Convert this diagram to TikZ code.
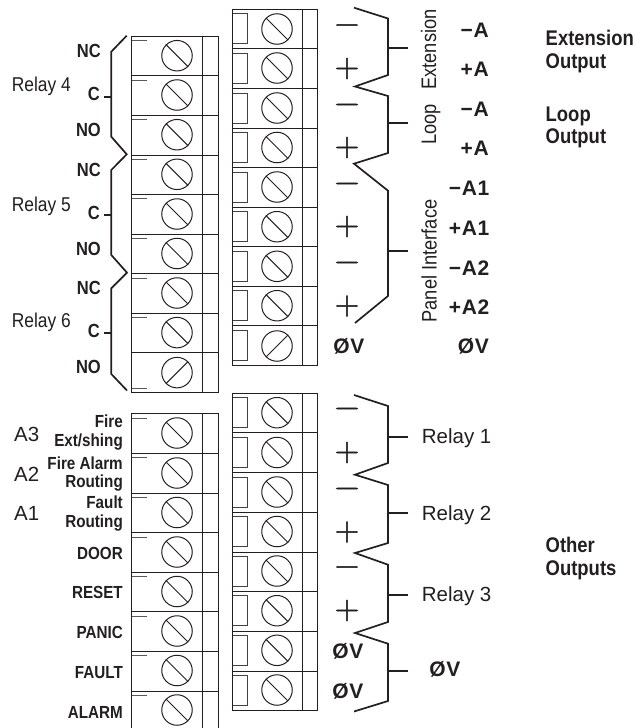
\documentclass[tikz,border=0pt]{standalone}
\usepackage{fontspec}
\setmainfont{Liberation Sans}
\newfontfamily\nar[FakeStretch=.87]{Liberation Sans}
\newfontfamily\wid[LetterSpace=3]{Liberation Sans}
\newfontfamily\lmf[FakeBold=1.5]{Latin Modern Roman}
\definecolor{ink}{HTML}{231F20}
\newcommand{\fs}[1]{\fontsize{#1}{#1}\selectfont}
\tikzset{
  cellline/.style={line width=1pt,draw=ink},
  screwc/.style={circle,draw=ink,line width=1pt,minimum size=30.5pt,inner sep=0pt},
  brace/.style={line width=1.7pt,draw=ink,line join=miter},
  bl/.style={font=\nar\fs{19}\bfseries,text=ink,inner sep=0pt},
  bs/.style={font=\nar\fs{17.5}\bfseries,text=ink,inner sep=0pt},
  bo/.style={font=\nar\fs{21.2}\bfseries,text=ink,inner sep=0pt,anchor=base west},
  rl/.style={font=\wid\fs{21}\bfseries,text=ink,inner sep=0pt,anchor=base east},
  nl/.style={font=\nar\fs{20},text=ink,inner sep=0pt},
  nw/.style={font=\fs{20.5},text=ink,inner sep=0pt,anchor=base west},
  vl/.style={font=\nar\fs{21},text=ink,inner sep=0pt,rotate=90,anchor=base},
  sign/.style={font=\lmf\fs{34},text=ink,inner sep=0pt},
}
\newcommand{\screw}[4]{%
  \node[screwc] (#1) at (#2,#3) {};
  \draw[cellline] (#1.#4) -- (#1.#4+180);}
\begin{document}
\begin{tikzpicture}[x=1pt,y=-1pt]
\useasboundingbox (0,0) rectangle (636,728);
% --- left upper block
\draw[cellline] (131.5,36) rectangle (218,392.3);
\draw[cellline] (202,36) -- (202,392.3);
\foreach \y in {75.5,115.5,155,194.5,234,273.5,313.2,352.8}
  \draw[cellline] (131.5,\y) -- (218,\y);
\foreach \y in {40.5,80,119.5,159,198.5,238.5,278,317.5,388}
  \draw[cellline,ink!75] (131.5,\y) -- (147,\y);
\foreach \y/\n/\a in {55.7/a/135,95/b/135,134.7/c/135,174.3/d/135,214/e/135,253.5/f/135,293/g/135,332.6/h/135,372.6/i/45}
  \screw{L\n}{177}{\y}{\a}
% --- left lower block
\draw[cellline] (131.5,728) -- (131.5,413.5) -- (218,413.5) -- (218,728);
\draw[cellline] (202,413.5) -- (202,728);
\foreach \y in {453.3,493,532.7,572,611.5,651,691}
  \draw[cellline] (131.5,\y) -- (218,\y);
\foreach \y in {418,457.5,497.5,537,576.5,616,655.5,695}
  \draw[cellline,ink!75] (131.5,\y) -- (147,\y);
\foreach \y/\n in {433/a,473/b,512.5/c,552/d,591.5/e,631/f,670.5/g,710/h}
  \screw{M\n}{177}{\y}{135}
% --- right upper block
\draw[cellline] (232.5,9) rectangle (317.5,365.3);
\draw[cellline] (302.5,9) -- (302.5,365.3);
\foreach \y in {48.5,88.5,128,167.5,207,246.7,286.7,325.7}
  \draw[cellline] (232.5,\y) -- (317.5,\y);
\foreach \y in {13.5,53,93,132,172,211.5,251.5,290.5,330.5}
  \draw[cellline,ink!85] (232.5,\y) -- (247.5,\y) -- ++(0,30) -- (232.5,\y+30);
\foreach \y/\n/\a in {29/a/135,68/b/135,108/c/135,147.5/d/135,187/e/135,226.7/f/135,266.3/g/135,305.7/h/135,346/i/45}
  \screw{R\n}{277}{\y}{\a}
% --- right lower block
\draw[cellline] (232.5,393) rectangle (317.5,710.7);
\draw[cellline] (302.5,393) -- (302.5,710.7);
\foreach \y in {432.7,472.5,512,552,591,631,671}
  \draw[cellline] (232.5,\y) -- (317.5,\y);
\foreach \y in {397.5,437,477,516.5,556,595.5,635.5,675}
  \draw[cellline,ink!85] (232.5,\y) -- (247.5,\y) -- ++(0,30) -- (232.5,\y+30);
\foreach \y/\n in {412.7/a,452.5/b,492/c,531.5/d,571/e,610.7/f,650.3/g,690/h}
  \screw{S\n}{277}{\y}{135}
% --- left brace
\coordinate (lb0) at (126.7,35.7);
\coordinate (lb1) at (111.3,51.7);
\coordinate (lb2) at (111.3,136.7);
\coordinate (lb3) at (126.7,154.3);
\coordinate (lb4) at (111.3,170);
\coordinate (lb5) at (111.3,255);
\coordinate (lb6) at (127,272.7);
\coordinate (lb7) at (111.3,288.3);
\coordinate (lb8) at (111.3,374);
\coordinate (lb9) at (127,390.5);
\draw[brace] (lb0)--(lb1)--(lb2)--(lb3)--(lb4)--(lb5)--(lb6)--(lb7)--(lb8)--(lb9);
\foreach \y/\n in {97.3/a,215/b,333.3/c} {
  \coordinate (lt\n) at (104,\y); \coordinate (le\n) at (111.3,\y);
  \draw[brace] (lt\n)--(le\n);}
% --- right upper braces
\coordinate (p0) at (354,7.7);
\coordinate (p1) at (388,18.5);
\coordinate (p2) at (388,75);
\coordinate (p3) at (355,86.5);
\coordinate (p4) at (388,96);
\coordinate (p5) at (388,153);
\coordinate (p6) at (354,163.7);
\coordinate (p7) at (388,190.7);
\coordinate (p8) at (388,296);
\coordinate (p9) at (355,323);
\draw[brace] (p0)--(p1)--(p2)--(p3)--(p4)--(p5)--(p6)--(p7)--(p8)--(p9);
\foreach \y/\n in {48/a,123/b,250.7/c} {
  \coordinate (pt\n) at (388,\y); \coordinate (pe\n) at (408,\y);
  \draw[brace] (pt\n)--(pe\n);}
% --- right lower braces
\coordinate (q0) at (354,395);
\coordinate (q1) at (388,406);
\coordinate (q2) at (388,463);
\coordinate (q3) at (355,474.7);
\coordinate (q4) at (388,485);
\coordinate (q5) at (388,543);
\coordinate (q6) at (355,553);
\coordinate (q7) at (388,564.7);
\coordinate (q8) at (388,622);
\coordinate (q9) at (355,633);
\coordinate (q10) at (388,643.7);
\coordinate (q11) at (388,701);
\coordinate (q12) at (354,711.5);
\draw[brace] (q0)--(q1)--(q2)--(q3)--(q4)--(q5)--(q6)--(q7)--(q8)--(q9)--(q10)--(q11)--(q12);
\foreach \y/\n in {436.7/a,512.7/b,595/c,671/d} {
  \coordinate (qt\n) at (388,\y); \coordinate (qe\n) at (408,\y);
  \draw[brace] (qt\n)--(qe\n);}
% --- signs
\foreach \y/\n in {29/a,108.5/b,187.5/c,266.5/d,412.5/e,492.5/f,571/g}
  \node[sign] (m\n) at (347,\y) {−};
\foreach \y/\n in {68.5/a,147.5/b,226.5/c,306/d,452.5/e,532/f,610.5/g}
  \node[sign] (pl\n) at (347,\y) {+};
% --- left labels
\node[nl,anchor=base east] (r4) at (71,91.7) {Relay 4};
\node[nl,anchor=base east] (r5) at (71,211) {Relay 5};
\node[nl,anchor=base east] (r6) at (71,327.7) {Relay 6};
\node[bl,anchor=base east] (nc1) at (101,57.3) {NC};
\node[bl,anchor=base east] (c1) at (100,100) {C};
\node[bl,anchor=base east] (no1) at (101,136) {NO};
\node[bl,anchor=base east] (nc2) at (101,176) {NC};
\node[bl,anchor=base east] (c2) at (100,219) {C};
\node[bl,anchor=base east] (no2) at (101,255) {NO};
\node[bl,anchor=base east] (nc3) at (101,294.3) {NC};
\node[bl,anchor=base east] (c3) at (100,337) {C};
\node[bl,anchor=base east] (no3) at (101,373) {NO};
\node[nw] (a3) at (14,441) {A3};
\node[nw] (a2) at (14,481) {A2};
\node[nw] (a1) at (14,520.7) {A1};
\node[bs,anchor=base east] (f1) at (123,427.7) {Fire};
\node[bs,anchor=base east] (f2) at (123,446.7) {Ext/shing};
\node[bs,anchor=base east] (f3) at (123,469) {Fire Alarm};
\node[bs,anchor=base east] (f4) at (123,487.7) {Routing};
\node[bs,anchor=base east] (f5) at (123,508.3) {Fault};
\node[bs,anchor=base east] (f6) at (123,527.7) {Routing};
\node[bs,anchor=base east] (door) at (123,559) {DOOR};
\node[bs,anchor=base east] (reset) at (123,598.7) {RESET};
\node[bs,anchor=base east] (panic) at (123,638.7) {PANIC};
\node[bs,anchor=base east] (fault) at (123,678) {FAULT};
\node[bs,anchor=base east] (alarm) at (123,718) {ALARM};
% --- right labels
\node[vl] (ext) at (436,49.5) {Extension};
\node[vl] (loop) at (436,124.5) {Loop};
\node[vl] (pi) at (436.5,261) {Panel Interface};
\node[rl] (l1) at (489,37.3) {−A};
\node[rl] (l2) at (489,76.7) {+A};
\node[rl] (l3) at (489,116) {−A};
\node[rl] (l4) at (489,155.7) {+A};
\node[rl] (l5) at (489.5,195) {−A1};
\node[rl] (l6) at (489.5,235) {+A1};
\node[rl] (l7) at (489.5,275) {−A2};
\node[rl] (l8) at (489.5,314.3) {+A2};
\node[rl] (l9) at (489,353.3) {ØV};
\node[rl] (l10) at (364.5,353.3) {ØV};
\node[rl] (l11) at (363.5,658.3) {ØV};
\node[rl] (l12) at (363.5,698) {ØV};
\node[rl] (l13) at (460.5,676) {ØV};
\node[nw] (r1) at (421.7,443.3) {Relay 1};
\node[nw] (r2) at (421.7,520.7) {Relay 2};
\node[nw] (r3) at (421.7,601.7) {Relay 3};
\node[bo] (o1a) at (545.5,45) {Extension};
\node[bo] (o1b) at (545.5,68) {Output};
\node[bo] (o2a) at (545.5,121.7) {Loop};
\node[bo] (o2b) at (545.5,143.5) {Output};
\node[bo] (o3a) at (545.5,552) {Other};
\node[bo] (o3b) at (545.5,575) {Outputs};
\end{tikzpicture}
\end{document}
